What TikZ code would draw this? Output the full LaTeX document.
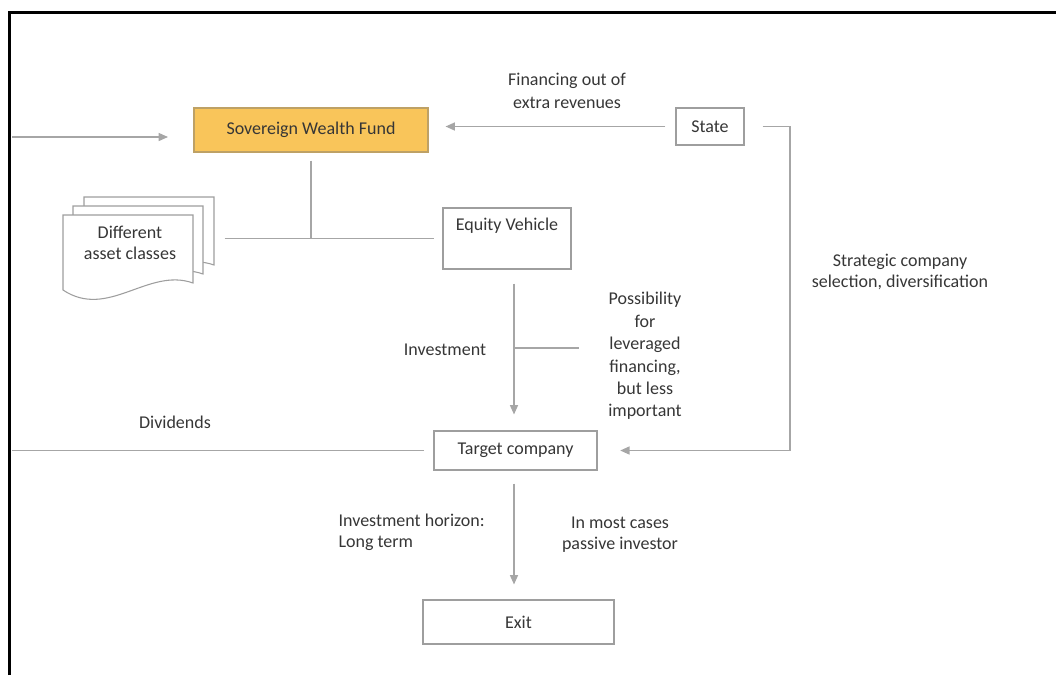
\documentclass[tikz,border=0pt]{standalone}
\usepackage{fontspec}
\setmainfont{Carlito}
\usetikzlibrary{arrows.meta}
\tikzset{>={Triangle[length=7pt,width=6pt]}}
\colorlet{linegray}{black!35}
\colorlet{boxgray}{black!38}
\definecolor{swforange}{HTML}{F9C55A}
\definecolor{txt}{HTML}{363636}
% one sheet of the document stack, top-left corner at (#1,#2)
\newcommand{\docsheet}[2]{%
  \begin{scope}[shift={(#1,#2)}]
    \draw[boxgray,line width=0.8pt,fill=white] (0,0) -- (130,0) -- (130,68)
      .. controls (85,52) and (45,105) .. (0,75) -- cycle;
  \end{scope}}

\begin{document}
\begin{tikzpicture}[x=0.75pt,y=-0.75pt,
  font=\fontsize{13.5}{16}\selectfont,
  box/.style={draw=boxgray,line width=0.8pt,fill=white,text=txt,inner sep=3pt},
  conn/.style={draw=linegray,line width=1pt},
  note/.style={text=txt,align=center,inner sep=1pt}]
  \useasboundingbox (0,0) rectangle (1056,675);
  % frame
  \draw[line width=2.5pt] (9.5,675) -- (9.5,12.5) -- (1056,12.5);

  % boxes
  \node[box,fill=swforange,draw=swforange!70!black!80,minimum width=175.5pt,minimum height=33pt]
    (swf) at (311,130) {Sovereign Wealth Fund};
  \node[box,minimum width=51pt,minimum height=27.75pt] (state) at (710,126.5) {State};
  \node[box,minimum width=96pt,text height=14pt,text depth=25.75pt] (vehicle) at (507,238.5) {Equity Vehicle};
  \node[box,minimum width=122.25pt,minimum height=29.25pt] (target) at (515.5,450.5) {Target company};
  \node[box,minimum width=143.25pt,minimum height=33pt] (exit) at (518.5,622) {Exit};

  % document stack
  \docsheet{84}{197}
  \docsheet{73}{206}
  \docsheet{63}{215}
  \node[note] (assets) at (130,243) {Different\\asset classes};

  % labels
  \node[note,font=\fontsize{13.5}{17.5}\selectfont] (financing) at (567,91) {Financing out of\\extra revenues};
  \node[note] (selection) at (900,272) {Strategic company\\selection, diversification};
  \node[note] (investment) at (445,350) {Investment};
  \node[note,font=\fontsize{13.5}{16.8}\selectfont] (leverage) at (645,356)
    {Possibility\\for\\leveraged\\financing,\\but less\\important};
  \node[note] (dividends) at (175,422) {Dividends};
  \node[note,align=left,anchor=west] (horizon) at (337,532) {Investment horizon:\\Long term};
  \node[note] (passive) at (620,535) {In most cases\\passive investor};

  \coordinate (leftin) at (12,137);
  \coordinate (fundtip) at (168,137);
  \coordinate (selturn) at (790,126.5);
  \coordinate (stack) at (214,238.5);
  \coordinate (levjoin) at (514,348);
  \coordinate (levend) at (579,348);
  \coordinate (leftout) at (12,450.5);

  % connectors
  \draw[conn,->] (leftin) -- (fundtip);
  \draw[conn,->,shorten <=7.5pt,shorten >=12.75pt] (state.west) -- (state.west -| swf.east);
  \draw[conn,->,shorten <=13.5pt,shorten >=17pt] (state.east) -- (selturn) |- (target.east);
  \draw[conn,shorten <=6pt] (swf.south) -- (swf.south |- vehicle.west);
  \draw[conn,shorten <=8pt,shorten >=6pt] (stack) -- (vehicle.west);
  \draw[conn,->,shorten <=10.5pt,shorten >=12pt] (vehicle.south -| levjoin) -- (levjoin |- target.north);
  \draw[conn] (levjoin) -- (levend);
  \draw[conn,shorten <=7pt] (target.west) -- (leftout);
  \draw[conn,->,shorten <=9.75pt,shorten >=11.25pt] (levjoin |- target.south) -- (levjoin |- exit.north);
\end{tikzpicture}
\end{document}
